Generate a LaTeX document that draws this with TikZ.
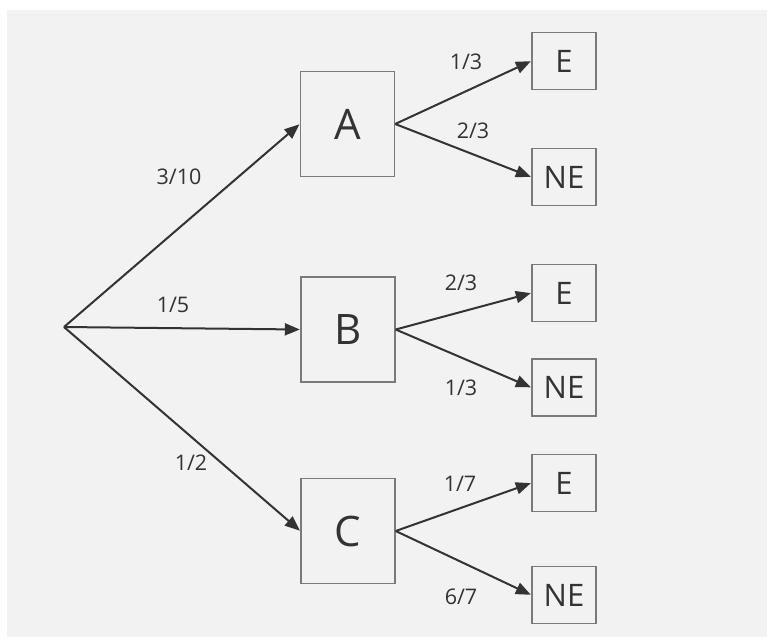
\documentclass[tikz,border=0pt]{standalone}
\usepackage{fontspec}
\setmainfont{Open Sans}
\usetikzlibrary{arrows.meta}
\definecolor{bggray}{HTML}{F2F2F2}
\definecolor{boxline}{HTML}{7A7A7A}
\definecolor{ink}{HTML}{333333}
\begin{document}
\begin{tikzpicture}[x=1pt,y=-1pt,
  bigbox/.style={draw=boxline, line width=1.4pt, fill=bggray, minimum width=94pt, minimum height=105pt, inner sep=0pt, text=ink, font=\fontsize{42}{42}\selectfont},
  smallbox/.style={draw=boxline, line width=1.4pt, fill=bggray, minimum width=64pt, minimum height=57pt, inner sep=0pt, text=ink, font=\fontsize{31}{31}\selectfont},
  conn/.style={draw=ink, line width=2pt, -{Triangle[length=15pt,width=12pt]}, shorten >=0.5pt},
  lbl/.style={text=ink, font=\fontsize{21.5}{21.5}\selectfont, inner sep=0pt}]
\useasboundingbox (0,0) rectangle (767,637);
\fill[white] (0,0) rectangle (767,637);
\fill[bggray] (7,10) rectangle (767,637);

\coordinate (root) at (64,327);
\node[bigbox] (A) at (347.5,124) {A};
\node[bigbox] (B) at (348,329.5) {B};
\node[bigbox] (C) at (348,531) {C};
\node[smallbox] (EA) at (564,61) {E};
\node[smallbox] (NEA) at (564,177) {NE};
\node[smallbox] (EB) at (564,293) {E};
\node[smallbox] (NEB) at (564,387.5) {NE};
\node[smallbox] (EC) at (564,483) {E};
\node[smallbox] (NEC) at (564,595) {NE};

\draw[conn] (root) -- (A.west);
\draw[conn] (root) -- (B.west);
\draw[conn] (root) -- (C.west);
\draw[conn] (A.east) -- (EA.west);
\draw[conn] (A.east) -- (NEA.west);
\draw[conn] (B.east) -- (EB.west);
\draw[conn] (B.east) -- (NEB.west);
\draw[conn] (C.east) -- (EC.west);
\draw[conn] (C.east) -- (NEC.west);

\node[lbl] (l1) at (179,177) {3/10};
\node[lbl] (l2) at (173,305) {1/5};
\node[lbl] (l3) at (191,463) {1/2};
\node[lbl] (l4) at (466,62) {1/3};
\node[lbl] (l5) at (473,131) {2/3};
\node[lbl] (l6) at (461,283) {2/3};
\node[lbl] (l7) at (461,388) {1/3};
\node[lbl] (l8) at (460,484) {1/7};
\node[lbl] (l9) at (461,597) {6/7};
\end{tikzpicture}
\end{document}
